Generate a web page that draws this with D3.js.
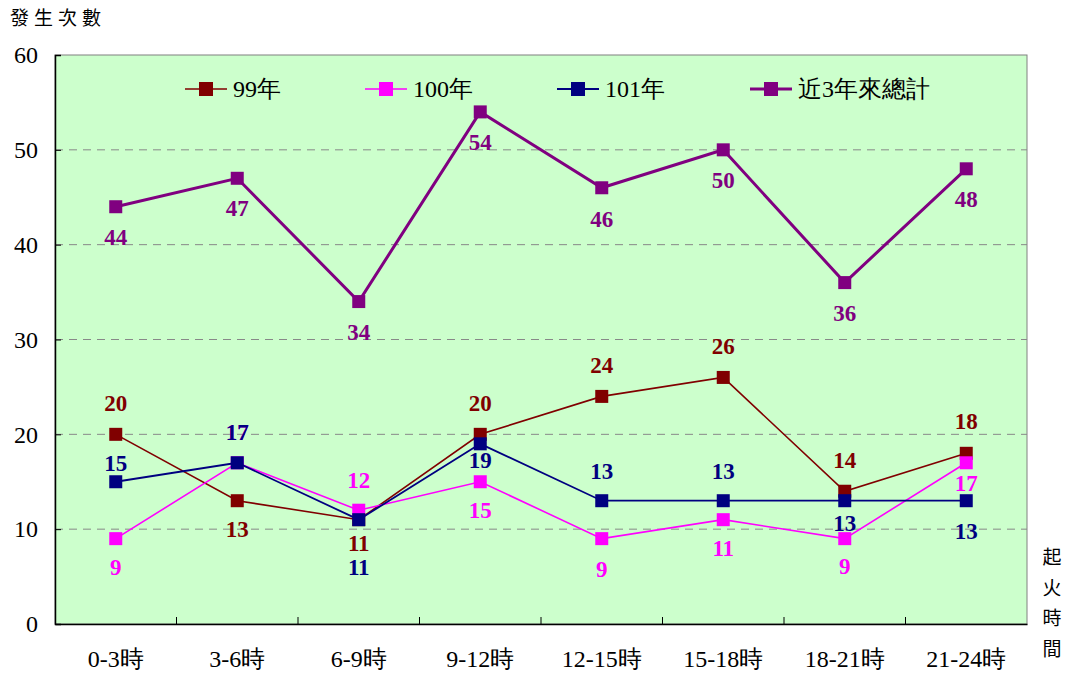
<!DOCTYPE html>
<html>
<head>
<meta charset="utf-8">
<script src="https://cdn.jsdelivr.net/npm/d3@7"></script>
<style>
body { margin: 0; background: #fff; }
svg { display: block; }
</style>
</head>
<body>
<svg id="chart" width="1068" height="674"></svg>
<script>
// time slots
var categories = ["0-3時", "3-6時", "6-9時", "9-12時", "12-15時", "15-18時", "18-21時", "21-24時"]
var yTicks = [0, 10, 20, 30, 40, 50, 60]

var seriesNames = ["99年", "100年", "101年", "近3年來總計"]
var colors = ["#800000", "#FF00FF", "#000080", "#800080"]

var v99 = [20, 13, 11, 20, 24, 26, 14, 18]
var v100 = [9, 17, 12, 15, 9, 11, 9, 17]
var v101 = [15, 17, 11, 19, 13, 13, 13, 13]
var vTotal = [44, 47, 34, 54, 46, 50, 36, 48]

// vertical shift of each value label from its marker
var dy99 = [-31, 28, 23, -31, -31, -31, -31, -32]
var dy100 = [28, -31, -30, 28, 30, 28, 27, 20]
var dy101 = [-19, -31, 47, 16, -30, -30, 22, 30]
var dyTotal = [30, 30, 30, 30, 31, 30, 30, 30]

var series = [
	{name: seriesNames[0], color: colors[0], values: v99, dy: dy99, width: 1.6},
	{name: seriesNames[1], color: colors[1], values: v100, dy: dy100, width: 1.6},
	{name: seriesNames[2], color: colors[2], values: v101, dy: dy101, width: 1.8},
	{name: seriesNames[3], color: colors[3], values: vTotal, dy: dyTotal, width: 3}
]

var svg = d3.select("#chart")
var mLeft = 55, mRight = 1027, mTop = 55, mBottom = 624
var serif = "'Liberation Serif', 'Times New Roman', serif"
var cjk = "'Noto Sans CJK TC', 'Noto Sans CJK SC', sans-serif"

var x = d3.scaleBand().domain(categories).range([mLeft, mRight])
var y = d3.scaleLinear().domain([0, 60]).range([mBottom, mTop])
var cx = (d, i) => x(categories[i]) + x.bandwidth() / 2

// plot background
svg.append("rect")
	.attr("x", mLeft).attr("y", mTop)
	.attr("width", mRight - mLeft).attr("height", mBottom - mTop)
	.attr("fill", "#CCFFCC")
	.attr("stroke", "#808080").attr("stroke-width", 1)

// grid
svg.append("g").selectAll("line")
	.data(yTicks.filter(d => d > 0 && d < 60))
	.join("line")
	.attr("x1", mLeft).attr("x2", mRight)
	.attr("y1", d => y(d)).attr("y2", d => y(d))
	.attr("stroke", "#888").attr("stroke-width", 1)
	.attr("stroke-dasharray", "8,6")

// y axis
var yAxis = svg.append("g")
	.attr("transform", "translate(" + mLeft + ",0)")
	.call(d3.axisLeft(y).tickValues(yTicks).tickSize(-6).tickPadding(17))
yAxis.select(".domain").attr("stroke", "#000").attr("stroke-width", 1.5)
yAxis.selectAll("text")
	.attr("font-family", serif).attr("font-size", 24).attr("fill", "#000")

// x axis, ticks at band edges pointing up
var xAxis = svg.append("g")
	.attr("transform", "translate(0," + mBottom + ")")
	.call(d3.axisBottom(x).tickSize(0).tickPadding(26))
xAxis.select(".domain").attr("stroke", "#000").attr("stroke-width", 1.5)
xAxis.selectAll("text")
	.attr("font-family", serif).attr("font-size", 24).attr("fill", "#000")
xAxis.selectAll(".bandtick")
	.data(categories.slice(1))
	.join("line")
	.attr("x1", d => x(d)).attr("x2", d => x(d))
	.attr("y1", 0).attr("y2", -7)
	.attr("stroke", "#000")

// titles
svg.append("text")
	.attr("x", 10).attr("y", 25)
	.attr("font-family", cjk).attr("font-size", 19)
	.attr("letter-spacing", 5)
	.text("發生次數")

var xTitle = "起火時間".split("")
svg.append("g").selectAll("text")
	.data(xTitle)
	.join("text")
	.attr("x", 1052).attr("y", (d, i) => 564 + i * 30.5)
	.attr("text-anchor", "middle")
	.attr("font-family", cjk).attr("font-size", 19)
	.text(d => d)

var line = d3.line().x(cx).y(d => y(d))

var ms = 13

series.forEach(function(s) {
	var g = svg.append("g")
	g.append("path")
		.attr("d", line(s.values))
		.attr("fill", "none")
		.attr("stroke", s.color)
		.attr("stroke-width", s.width)
	g.selectAll("rect")
		.data(s.values)
		.join("rect")
		.attr("x", (d, i) => cx(d, i) - ms / 2)
		.attr("y", d => y(d) - ms / 2)
		.attr("width", ms).attr("height", ms)
		.attr("fill", s.color)
})

series.forEach(function(s) {
	svg.append("g").selectAll("text")
		.data(s.values)
		.join("text")
		.attr("x", cx)
		.attr("y", (d, i) => y(d) + s.dy[i] + 8)
		.attr("text-anchor", "middle")
		.attr("font-family", serif).attr("font-weight", "bold")
		.attr("font-size", 23)
		.attr("fill", s.color)
		.text(d => d)
})

// legend
var legendX = [185, 365, 557, 750]
var lg = svg.append("g").selectAll("g")
	.data(series)
	.join("g")
	.attr("transform", (d, i) => "translate(" + legendX[i] + ",89)")
lg.append("line")
	.attr("x1", 0).attr("x2", 42)
	.attr("stroke", d => d.color)
	.attr("stroke-width", d => d.width)
lg.append("rect")
	.attr("x", 14).attr("y", -7)
	.attr("width", 14).attr("height", 14)
	.attr("fill", d => d.color)
lg.append("text")
	.attr("x", 48).attr("y", 8)
	.attr("font-family", serif).attr("font-size", 24)
	.text(d => d.name)
</script>
</body>
</html>
